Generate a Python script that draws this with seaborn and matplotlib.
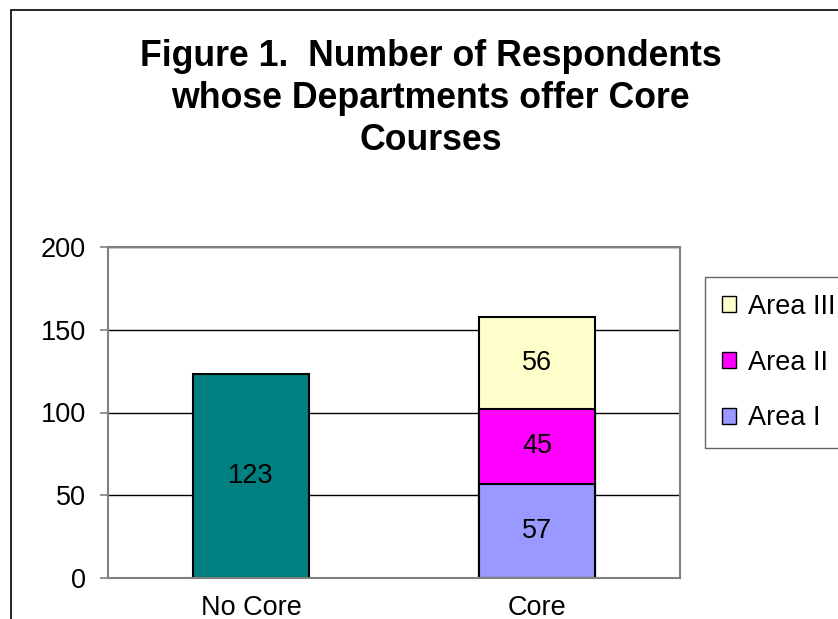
import pandas as pd
import matplotlib.pyplot as plt
import seaborn as sns
from matplotlib.patches import Rectangle, Patch

# Données du graphique
categories = ["No Core", "Core"]
seg_category = ["No Core", "Core", "Core", "Core"]
seg_series = ["No Core", "Area I", "Area II", "Area III"]
seg_values = [123, 57, 45, 56]
seg_colors = ["#008080", "#9999FF", "#FF00FF", "#FFFFCC"]
legend_series = ["Area III", "Area II", "Area I"]

df = pd.DataFrame({"category": seg_category, "series": seg_series,
                   "value": seg_values, "color": seg_colors})
df["top"] = df.groupby("category")["value"].cumsum()
df["bottom"] = df["top"] - df["value"]

sns.set_theme(style="white")
plt.rcParams["font.family"] = ["Liberation Sans", "DejaVu Sans"]
plt.rcParams["text.color"] = "black"

fs = 19.5

fig = plt.figure(figsize=(8.38, 6.19), dpi=100)
ax = fig.add_axes([108 / 838, 1 - 578 / 619, (680 - 108) / 838, (578 - 247) / 619])

# Barres empilées : on dessine du plus haut au plus bas
for _, row in df.sort_values("top", ascending=False).iterrows():
    sns.barplot(data=pd.DataFrame([row]), x="category", y="top", order=categories,
                color=row["color"], saturation=1, width=0.405, errorbar=None,
                edgecolor="black", linewidth=1.5, ax=ax)

for _, row in df.iterrows():
    ax.text(categories.index(row["category"]), row["bottom"] + row["value"] / 2,
            str(row["value"]), ha="center", va="center", fontsize=fs, color="black")

ax.set_xlim(-0.5, 1.5)
ax.set_ylim(0, 200)
ax.set_yticks([0, 50, 100, 150, 200])
ax.set_xlabel("")
ax.set_ylabel("")
ax.yaxis.grid(True, color="black", linewidth=1)
ax.set_axisbelow(True)
for s in ax.spines.values():
    s.set_color("#808080")
    s.set_linewidth(1.5)
ax.tick_params(axis="y", left=True, length=6, width=1.2, color="#808080",
               pad=10, labelsize=fs, labelcolor="black")
ax.tick_params(axis="x", bottom=False, length=0, pad=12, labelsize=fs, labelcolor="black")

# Titre
fig.text(0.514, 1 - 39 / 619,
         "Figure 1.  Number of Respondents\nwhose Departments offer Core\nCourses",
         ha="center", va="top", fontsize=25.7, fontweight="bold", linespacing=1.25,
         color="black")

# Légende
handles = [Patch(facecolor=df.loc[df["series"] == s, "color"].iloc[0], edgecolor="black",
                 linewidth=1) for s in legend_series]
leg = fig.legend(handles, legend_series, loc="upper left",
                 bbox_to_anchor=(705 / 838, 1 - 277 / 619), borderaxespad=0,
                 fontsize=fs, frameon=True, fancybox=False, borderpad=0.62,
                 handlelength=0.52, handleheight=0.52, handletextpad=0.44,
                 labelspacing=1.1)
leg.get_frame().set_edgecolor("#404040")
leg.get_frame().set_linewidth(1)

# Cadre extérieur du graphique
fig.patches.append(Rectangle((11 / 838, -0.1), 1.2, 1.1 - 10 / 619, transform=fig.transFigure,
                             fill=False, edgecolor="black", linewidth=1.2))

fig.savefig("out.png", dpi=100)
